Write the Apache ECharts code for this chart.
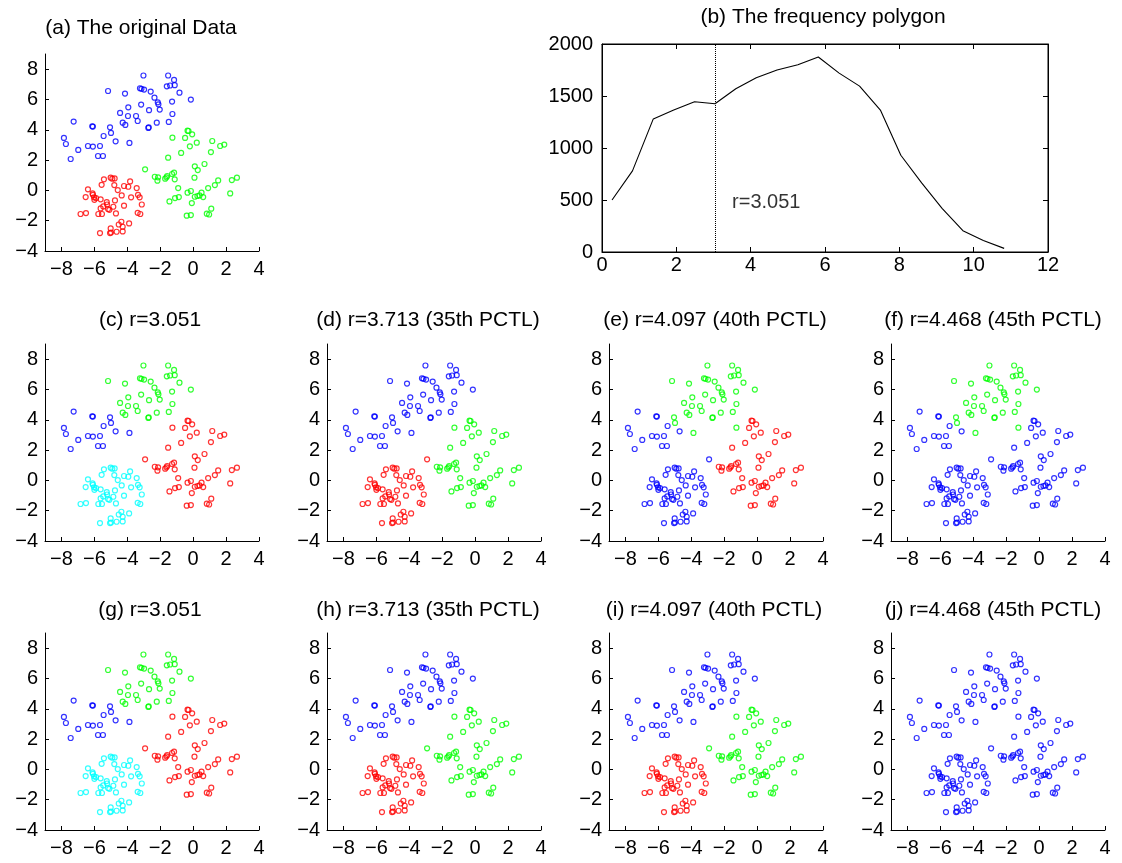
<!DOCTYPE html>
<html>
<head>
<meta charset="utf-8">
<script src="https://cdn.jsdelivr.net/npm/echarts@6/dist/echarts.min.js"></script>
<style>
  html, body { margin: 0; padding: 0; background: #fff; }
  #main { width: 1122px; height: 863px; }
</style>
</head>
<body>
<div id="main"></div>
<script>
// point groups (x, y), split so that every panel's colouring can be built from them
var ptsUL = [[-7.26,4.54],[-7.85,3.46],[-7.73,3.06],[-6.98,2.67],[-7.44,2.07],[-6.13,4.23],[-6.09,4.21],
  [-6.39,2.93],[-6.09,2.89],[-5.66,2.93],[-5.78,2.27],[-5.48,2.27],[-5.44,3.59],[-4.71,3.24]]
var ptsULg = [[-5.05,4.16],[-4.99,3.79],[-3.87,3.13]]
var ptsTop = [[-5.17,6.56],[-4.14,6.39],[-4.44,5.11],[-3.94,5.48],[-3.96,4.91],[-4.28,4.47],[-4.12,4.32],
  [-3.47,4.91],[-3.37,4.58],[-3.16,5.66],[-3.02,7.58],[-3.23,6.74],[-3.14,6.70],[-2.98,6.65],[-2.58,6.52],
  [-2.68,5.29],[-2.72,4.12],[-2.70,4.16],[-2.35,6.12],[-2.15,5.81],[-2.11,5.68],[-2.03,5.33],[-2.21,4.47],
  [-1.52,7.58],[-1.16,7.29],[-1.60,6.87],[-1.40,6.92],[-1.12,6.94],[-0.83,6.45],[-1.28,5.86],[-1.26,5.04],
  [-1.48,4.52],[-0.14,5.99]]
var ptsBridge = [[-1.26,3.48]]
var ptsMid = [[-2.92,1.39]]
var ptsRight = [[-2.33,0.90],[-2.13,0.86],[-2.17,0.64],[-1.70,0.77],[-1.62,0.86],[-1.58,0.95],[-1.28,1.08],
  [-1.16,1.17],[-1.12,0.73],[-1.52,2.16],[-0.91,0.15],[-1.10,-0.51],[-0.87,-0.44],[-1.44,-0.73],[-0.73,2.47],
  [-0.49,3.46],[-0.34,3.94],[-0.28,3.92],[-0.06,3.70],[-0.20,2.91],[0.22,3.15],[0.10,1.59],[0.28,1.34],
  [0.08,0.84],[-0.14,-0.04],[-0.34,-0.15],[-0.08,-0.84],[0.10,-0.42],[0.26,-0.37],[0.39,-0.33],[0.51,-0.15],
  [0.61,-0.44],[-0.39,-1.67],[-0.14,-1.63],[0.69,1.74],[0.91,0.15],[1.08,2.53],[1.16,3.26],[1.32,0.35],
  [1.52,0.66],[0.83,-1.54],[0.97,-1.59],[1.10,-1.21],[1.64,2.93],[1.89,3.02],[2.25,-0.20],[2.35,0.68],[2.66,0.84]]
var ptsLL = [[-6.39,0.07],[-6.53,-0.44],[-6.84,-1.56],[-6.51,-1.50],[-6.11,-0.20],[-6.09,-0.29],[-6.02,-0.46],
  [-6.00,-0.62],[-5.90,-0.51],[-5.62,-0.59],[-5.56,0.37],[-5.42,0.73],[-5.76,-1.56],[-5.54,-1.56],[-5.62,-1.19],
  [-5.46,-1.06],[-5.25,-0.77],[-5.23,-0.93],[-5.17,-1.23],[-5.09,-1.28],[-4.85,-1.08],[-5.66,-2.82],[-5.01,0.84],
  [-4.91,0.77],[-4.77,0.79],[-4.79,0.35],[-4.58,0.02],[-4.75,-0.66],[-4.69,-1.52],[-5.01,-2.51],[-4.99,-2.78],
  [-5.05,-2.82],[-4.65,-2.73],[-4.52,-2.25],[-4.36,-2.07],[-4.28,-2.40],[-4.28,-2.71],[-3.89,-2.18],[-4.34,-0.33],
  [-4.20,0.29],[-4.20,-1.01],[-3.94,0.24],[-3.83,0.59],[-3.77,-0.46],[-3.43,0.15],[-3.35,-0.29],[-3.25,-0.46],
  [-3.12,-0.93],[-3.37,-1.48],[-3.21,-1.56]]
var groups = [ptsUL, ptsULg, ptsTop, ptsBridge, ptsMid, ptsRight, ptsLL]

// frequency polygon
var polyX = [0.27,0.82,1.38,1.93,2.49,3.04,3.60,4.15,4.71,5.27,5.82,6.38,6.93,7.49,8.04,8.60,9.15,9.71,10.26,10.82]
var polyY = [500,780,1280,1365,1445,1425,1570,1675,1750,1800,1875,1720,1595,1365,930,665,420,205,110,35]
var rCut = 3.051

var xTicks = [-8,-6,-4,-2,0,2,4]
var yTicks = [-4,-2,0,2,4,6,8]

// cluster colour of each group, per panel
var panels = [
  {title: '(a) The original Data', cl: 'bbbgggr'},
  {title: '(c) r=3.051', cl: 'bbgrrrc'},
  {title: '(d) r=3.713 (35th PCTL)', cl: 'bbbgrgr'},
  {title: '(e) r=4.097 (40th PCTL)', cl: 'bgggbrb'},
  {title: '(f) r=4.468 (45th PCTL)', cl: 'bgggbbb'},
  {title: '(g) r=3.051', cl: 'bbgrrrc'},
  {title: '(h) r=3.713 (35th PCTL)', cl: 'bbbgggr'},
  {title: '(i) r=4.097 (40th PCTL)', cl: 'bbbgggr'},
  {title: '(j) r=4.468 (45th PCTL)', cl: 'bbbbbbb'}
]
var colorMap = {b: '#0000ff', g: '#00ff00', r: '#ff0000', c: '#00ffff'}

// grid boxes of the scatter panels, and title centres
var boxes = [
  [45, 54], [45, 344], [327, 344], [609, 344], [891, 344],
  [45, 633], [327, 633], [609, 633], [891, 633]
]
var titlePos = [
  [141, 30], [150, 322], [428, 322], [715, 322], [993, 322],
  [150, 612], [428, 612], [714, 612], [993, 612]
]

var FONT = 'Liberation Sans, Arial, Helvetica, sans-serif'
var FS = 20
var TFS = 21
function minus(v) {
  return String(v).replace('-', '\u2212')
}
function plain(v) {
  return String(v)
}

var chart = echarts.init(document.getElementById('main'), null, {renderer: 'canvas'})

var grid = []
var xAxis = []
var yAxis = []
var series = []
var title = []

for (let i = 0; i < panels.length; i++) {
  grid.push({left: boxes[i][0], top: boxes[i][1], width: 214, height: 197})
  xAxis.push({
    gridIndex: i, type: 'value', min: -9, max: 4,
    axisLine: {onZero: false, lineStyle: {color: '#000', width: 1}},
    axisTick: {inside: true, length: 4, customValues: xTicks, lineStyle: {color: '#000'}},
    axisLabel: {customValues: xTicks, color: '#000', fontSize: FS, fontFamily: FONT, margin: 8, formatter: minus},
    splitLine: {show: false}
  })
  yAxis.push({
    gridIndex: i, type: 'value', min: -4, max: 9,
    axisLine: {show: true, onZero: false, lineStyle: {color: '#000', width: 1}},
    axisTick: {show: true, inside: true, length: 4, customValues: yTicks, lineStyle: {color: '#000'}},
    axisLabel: {customValues: yTicks, color: '#000', fontSize: FS, fontFamily: FONT, margin: 7, formatter: minus},
    splitLine: {show: false}
  })
  for (let g = 0; g < groups.length; g++) {
    series.push({
      type: 'scatter', xAxisIndex: i, yAxisIndex: i,
      data: groups[g], symbol: 'circle', symbolSize: 5, silent: true,
      itemStyle: {color: 'rgba(0,0,0,0)', borderColor: colorMap[panels[i].cl[g]], borderWidth: 1.2}
    })
  }
  title.push({
    text: panels[i].title, left: titlePos[i][0], top: titlePos[i][1] - 12,
    textAlign: 'center', padding: 0,
    textStyle: {fontSize: TFS, fontWeight: 'normal', color: '#000', fontFamily: FONT}
  })
}

// (b) frequency polygon panel
var bi = panels.length
grid.push({left: 602, top: 44, width: 446, height: 208, show: true, borderColor: '#000', borderWidth: 1})
xAxis.push({
  gridIndex: bi, type: 'value', min: 0, max: 12, interval: 2,
  axisLine: {onZero: false, lineStyle: {color: '#000', width: 1}},
  axisTick: {inside: true, length: 5, lineStyle: {color: '#000'}},
  axisLabel: {color: '#000', fontSize: FS, fontFamily: FONT, margin: 3, formatter: plain},
  splitLine: {show: false}
})
xAxis.push({
  gridIndex: bi, type: 'value', min: 0, max: 12, interval: 2, position: 'top',
  axisLine: {onZero: false, lineStyle: {color: '#000', width: 1}},
  axisTick: {inside: true, length: 5, lineStyle: {color: '#000'}},
  axisLabel: {show: false}, splitLine: {show: false}
})
yAxis.push({
  gridIndex: bi, type: 'value', min: 0, max: 2000, interval: 500,
  axisLine: {show: true, onZero: false, lineStyle: {color: '#000', width: 1}},
  axisTick: {show: true, inside: true, length: 5, lineStyle: {color: '#000'}},
  axisLabel: {color: '#000', fontSize: FS, fontFamily: FONT, margin: 9, formatter: plain},
  splitLine: {show: false}
})
yAxis.push({
  gridIndex: bi, type: 'value', min: 0, max: 2000, interval: 500, position: 'right',
  axisLine: {show: true, onZero: false, lineStyle: {color: '#000', width: 1}},
  axisTick: {show: true, inside: true, length: 5, lineStyle: {color: '#000'}},
  axisLabel: {show: false}, splitLine: {show: false}
})

var polyData = []
for (let k = 0; k < polyX.length; k++) {
  polyData.push([polyX[k], polyY[k]])
}
series.push({
  type: 'line', xAxisIndex: bi, yAxisIndex: bi, data: polyData,
  showSymbol: false, silent: true,
  lineStyle: {color: '#000', width: 1.1},
  markLine: {
    silent: true, symbol: ['none', 'none'], label: {show: false},
    lineStyle: {type: 'dotted', color: '#000', width: 1},
    data: [{xAxis: rCut}]
  }
})
series.push({
  type: 'scatter', xAxisIndex: bi, yAxisIndex: bi, data: [[3.5, 480]],
  symbolSize: 0, silent: true,
  label: {
    show: true, position: 'right', distance: 0, color: '#000', fontSize: FS, fontFamily: FONT,
    formatter: 'r=' + rCut
  }
})
title.push({
  text: '(b) The frequency polygon', left: 823, top: 7,
  textAlign: 'center', padding: 0,
  textStyle: {fontSize: TFS, fontWeight: 'normal', color: '#000', fontFamily: FONT}
})

var option = {
  animation: false,
  backgroundColor: '#fff',
  title: title,
  grid: grid,
  xAxis: xAxis,
  yAxis: yAxis,
  series: series
}
chart.setOption(option)
</script>
</body>
</html>
